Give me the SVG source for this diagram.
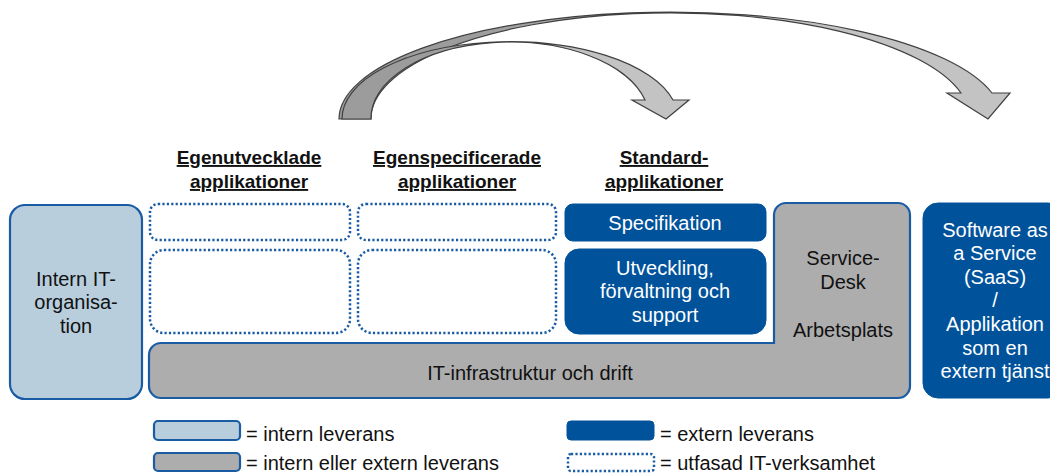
<svg xmlns="http://www.w3.org/2000/svg" width="1050" height="473" viewBox="0 0 1050 473">
<defs>
<style>
text{font-family:"Liberation Sans",Arial,sans-serif;font-size:20px;fill:#111}
.w{fill:#fff}
.h{font-weight:bold;text-decoration:underline;font-size:19px}
.lb{fill:#b8cedd;stroke:#1a5ca4;stroke-width:2.2}
.gr{fill:#adadad;stroke:#1a5ca4;stroke-width:2.2}
.db{fill:#00529b;stroke:#00529b;stroke-width:1}
.dot{fill:#fff;stroke:#1a5ca4;stroke-width:2.5;stroke-dasharray:2.2 2.2}
.arr{stroke:#404040;stroke-width:1.2}
</style>
<linearGradient id="g1" x1="0" y1="0" x2="1" y2="0">
<stop offset="0.25" stop-color="#9c9c9c"/><stop offset="0.7" stop-color="#c3c3c3"/>
</linearGradient>
<linearGradient id="g2" x1="0" y1="0" x2="1" y2="0">
<stop offset="0.2" stop-color="#9c9c9c"/><stop offset="0.6" stop-color="#c3c3c3"/>
</linearGradient>
</defs>

<g id="connectors">
<path class="arr" fill="url(#g2)" d="M339 119 A331.5 107 0 0 1 992 93 L1010 93 L988 119 L947 93 L961 93 A299.5 106 0 0 0 371 119 Z"/>
<path class="arr" fill="url(#g1)" d="M342 119 A168 77 0 0 1 673 100 L689 100 L666 119 L632 100 L645 100 A139 76 0 0 0 371 119 Z"/>
</g>

<g id="headers">
<text class="h" x="249" y="164" text-anchor="middle">Egenutvecklade</text>
<text class="h" x="249" y="188" text-anchor="middle">applikationer</text>
<text class="h" x="457" y="164" text-anchor="middle">Egenspecificerade</text>
<text class="h" x="457" y="188" text-anchor="middle">applikationer</text>
<text class="h" x="664" y="164" text-anchor="middle">Standard-</text>
<text class="h" x="664" y="188" text-anchor="middle">applikationer</text>
</g>

<g id="intern-it">
<rect class="lb" x="10" y="205" width="132" height="194" rx="15"/>
<text x="76" y="286" text-anchor="middle">Intern IT-</text>
<text x="76" y="309" text-anchor="middle">organisa-</text>
<text x="76" y="333" text-anchor="middle">tion</text>
</g>

<g id="dotted-1"><rect class="dot" x="150" y="204" width="200" height="36" rx="8"/></g>
<g id="dotted-2"><rect class="dot" x="358" y="204" width="198" height="36" rx="8"/></g>
<g id="dotted-3"><rect class="dot" x="150" y="250" width="200" height="83" rx="14"/></g>
<g id="dotted-4"><rect class="dot" x="358" y="250" width="198" height="83" rx="14"/></g>

<g id="infrastruktur">
<path class="gr" d="M161 343 L774 343 L774 215 A12 12 0 0 1 786 203 L898 203 A12 12 0 0 1 910 215 L910 386 A12 12 0 0 1 898 398 L161 398 A12 12 0 0 1 149 386 L149 355 A12 12 0 0 1 161 343 Z"/>
<text x="530" y="380" text-anchor="middle">IT-infrastruktur och drift</text>
<text x="843" y="265" text-anchor="middle">Service-</text>
<text x="843" y="289" text-anchor="middle">Desk</text>
<text x="843" y="337" text-anchor="middle">Arbetsplats</text>
</g>

<g id="specifikation">
<rect class="db" x="565" y="204" width="201" height="37" rx="8"/>
<text class="w" x="665" y="230" text-anchor="middle">Specifikation</text>
</g>

<g id="utveckling">
<rect class="db" x="565" y="249" width="201" height="85" rx="14"/>
<text class="w" x="665" y="275" text-anchor="middle">Utveckling,</text>
<text class="w" x="665" y="298" text-anchor="middle">förvaltning och</text>
<text class="w" x="665" y="322" text-anchor="middle">support</text>
</g>

<g id="saas">
<rect class="db" x="923" y="203" width="140" height="195" rx="15"/>
<text class="w" x="995" y="237" text-anchor="middle">Software as</text>
<text class="w" x="995" y="260" text-anchor="middle">a Service</text>
<text class="w" x="995" y="284" text-anchor="middle">(SaaS)</text>
<text class="w" x="995" y="307" text-anchor="middle">/</text>
<text class="w" x="995" y="331" text-anchor="middle">Applikation</text>
<text class="w" x="995" y="355" text-anchor="middle">som en</text>
<text class="w" x="995" y="378" text-anchor="middle">extern tjänst</text>
</g>

<g id="legend">
<rect class="lb" x="154" y="421" width="86" height="19" rx="4"/>
<text x="246" y="441">= intern leverans</text>
<rect class="gr" x="154" y="453" width="86" height="18" rx="4"/>
<text x="246" y="470">= intern eller extern leverans</text>
<rect class="db" x="567" y="421" width="87" height="19" rx="4"/>
<text x="660" y="441">= extern leverans</text>
<rect class="dot" x="568" y="454" width="86" height="17" rx="3"/>
<text x="660" y="470">= utfasad IT-verksamhet</text>
</g>
</svg>
